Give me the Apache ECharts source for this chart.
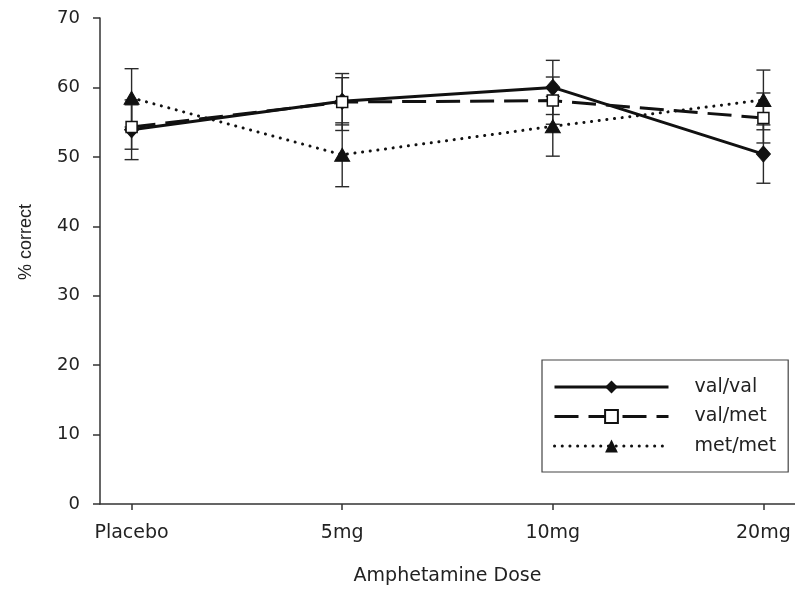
<!DOCTYPE html>
<html>
<head>
<meta charset="utf-8">
<script src="https://cdn.jsdelivr.net/npm/echarts@6/dist/echarts.min.js"></script>
<style>
  html, body { margin: 0; padding: 0; background: #fff; }
  #chart { width: 795px; height: 595px; }
</style>
</head>
<body>
<div id="chart"></div>
<script>
// ---- data ----
const categories = ['Placebo', '5mg', '10mg', '20mg'];
const yTicks = [0, 10, 20, 30, 40, 50, 60, 70];

const valval    = [53.9, 58.0, 60.0, 50.4];
const valvalErr = [4.3, 3.4, 3.9, 4.2];

const valmet    = [54.3, 57.9, 58.1, 55.6];
const valmetErr = [3.2, 4.1, 3.4, 3.6];

const metmet    = [58.5, 50.3, 54.4, 58.2];
const metmetErr = [4.2, 4.6, 4.3, 4.3];

const seriesNames = ['val/val', 'val/met', 'met/met'];

// ---- build ----
const FONT = 'DejaVu Sans';
const AX = '#333333';

function pts(vals) { return vals.map((v, i) => [i, v]); }
function errs(vals, e) { return vals.map((v, i) => [i, v - e[i], v + e[i]]); }

function errorSeries(vals, e) {
  return {
    type: 'custom',
    silent: true,
    z: 1,
    encode: { x: 0, y: [1, 2] },
    data: errs(vals, e),
    renderItem: function (params, api) {
      const x = api.value(0);
      const lo = api.coord([x, api.value(1)]);
      const hi = api.coord([x, api.value(2)]);
      const hw = 7;
      const st = { stroke: '#2a2a2a', lineWidth: 1.4 };
      return {
        type: 'group',
        children: [
          { type: 'line', shape: { x1: hi[0], y1: hi[1], x2: lo[0], y2: lo[1] }, style: st },
          { type: 'line', shape: { x1: hi[0] - hw, y1: hi[1], x2: hi[0] + hw, y2: hi[1] }, style: st },
          { type: 'line', shape: { x1: lo[0] - hw, y1: lo[1], x2: lo[0] + hw, y2: lo[1] }, style: st }
        ]
      };
    }
  };
}

const chart = echarts.init(document.getElementById('chart'), null, { renderer: 'canvas' });

chart.setOption({
  animation: false,
  backgroundColor: '#ffffff',
  grid: { left: 100, right: 0, top: 18, bottom: 91, containLabel: false },
  xAxis: {
    type: 'value',
    min: -0.15,
    max: 3.15,
    splitLine: { show: false },
    axisLine: { show: true, onZero: false, lineStyle: { color: AX, width: 1.5 } },
    axisTick: { show: true, customValues: [0, 1, 2, 3], length: 6, lineStyle: { color: AX, width: 1.5 } },
    axisLabel: {
      customValues: [0, 1, 2, 3],
      formatter: v => categories[Math.round(v)],
      margin: 20,
      color: '#222',
      fontFamily: FONT,
      fontSize: 19
    },
    name: 'Amphetamine Dose',
    nameLocation: 'middle',
    nameGap: 63,
    nameTextStyle: { color: '#222', fontFamily: FONT, fontSize: 19 }
  },
  yAxis: {
    type: 'value',
    min: yTicks[0],
    max: yTicks[yTicks.length - 1],
    interval: 10,
    splitLine: { show: false },
    axisLine: { show: true, onZero: false, lineStyle: { color: AX, width: 1.5 } },
    axisTick: { show: true, length: 7, lineStyle: { color: AX, width: 1.5 } },
    axisLabel: { margin: 20, color: '#222', fontFamily: FONT, fontSize: 18 },
    name: '% correct',
    nameLocation: 'middle',
    nameGap: 65,
    nameTextStyle: { color: '#222', fontFamily: 'Liberation Sans', fontSize: 18, padding: [0, 0, 0, 38] }
  },
  legend: {
    orient: 'vertical',
    left: 542,
    top: 360,
    padding: [17, 12, 16, 11],
    itemGap: 9.5,
    itemWidth: 114,
    itemHeight: 16,
    borderColor: '#444',
    borderWidth: 1.2,
    borderRadius: 0,
    data: seriesNames,
    lineStyle: { width: 3 },
    textStyle: { color: '#222', fontFamily: FONT, fontSize: 19, lineHeight: 20, padding: [0, 0, 0, 21] }
  },
  series: [
    errorSeries(valval, valvalErr),
    errorSeries(valmet, valmetErr),
    errorSeries(metmet, metmetErr),
    {
      name: seriesNames[0],
      type: 'line',
      z: 3,
      data: pts(valval),
      symbol: 'diamond',
      symbolSize: [14, 16],
      itemStyle: { color: '#111', borderColor: '#111' },
      lineStyle: { color: '#111', width: 3, type: 'solid' }
    },
    {
      name: seriesNames[1],
      type: 'line',
      z: 4,
      data: pts(valmet),
      symbol: 'rect',
      symbolSize: 11,
      itemStyle: { color: '#ffffff', borderColor: '#111', borderWidth: 1.5 },
      lineStyle: { color: '#111', width: 3, type: [24, 10] }
    },
    {
      name: seriesNames[2],
      type: 'line',
      z: 3,
      data: pts(metmet),
      symbol: 'triangle',
      symbolSize: [15, 13],
      itemStyle: { color: '#111', borderColor: '#111' },
      lineStyle: { color: '#111', width: 3, type: [0.1, 7.6], cap: 'round' }
    }
  ]
});
</script>
</body>
</html>
